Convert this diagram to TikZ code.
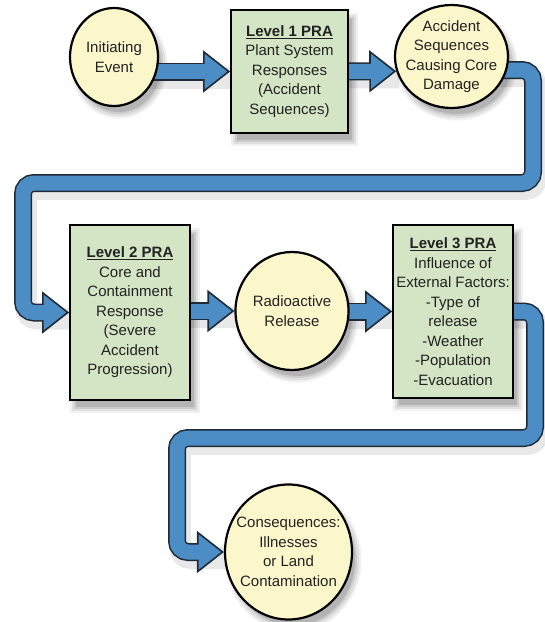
\documentclass[tikz,border=0pt]{standalone}
\usepackage{fontspec}
\setmainfont{Liberation Sans}
\usetikzlibrary{shapes.geometric,arrows.meta}
\pgfdeclarelayer{bg}
\pgfsetlayers{bg,main}
\definecolor{cream}{HTML}{FBF7CB}
\definecolor{sage}{HTML}{D4E5C5}
\definecolor{flowblue}{HTML}{4C8DC5}
\definecolor{flowedge}{HTML}{1E2A36}
\definecolor{ink}{HTML}{222222}
\definecolor{haze1}{RGB}{241,241,241}
\definecolor{haze2}{RGB}{224,224,224}
\definecolor{haze3}{RGB}{204,204,204}
\definecolor{haze4}{RGB}{180,180,180}

\begin{document}
\begin{tikzpicture}[x=1pt,y=-1pt]
  \tikzset{
    haze/.style={fill=haze4,preaction={draw=haze1,line width=13pt},
      preaction={draw=haze2,line width=9pt},preaction={draw=haze3,line width=4pt}},
    oval/.style={ellipse,draw,line width=2.2pt,fill=cream,inner sep=-14pt,align=center,text=ink},
    pra/.style={rectangle,draw,line width=1.8pt,fill=sage,inner sep=0pt,align=center,text=ink},
    flowshade/.style={line width=22pt,black,opacity=.09,rounded corners=11pt,transform canvas={xshift=3pt,yshift=-6pt},
      preaction={line width=27pt,opacity=.05}},
    flowline/.style={line width=18pt,draw=flowedge,rounded corners=11pt,
      -{Triangle[length=27pt,width=42pt,fill=flowblue,line width=1.6pt]}},
    flowfill/.style={line width=15pt,draw=flowblue,rounded corners=11pt,shorten >=23pt}
  }
  \def\flow#1{\draw[flowshade] #1; \draw[flowline] #1; \draw[flowfill] #1;}
  \def\lvl#1{\underline{\textbf{#1}}}
  \fontsize{15}{19.5}\selectfont
  \useasboundingbox (0,0) rectangle (545,622);
  %stages
  \node[oval,minimum width=88pt,minimum height=98pt] (init) at (114,57) {Initiating\\Event};
  \node[pra,minimum width=117pt,minimum height=123pt] (lvl1) at (289.5,71.5)
    {\lvl{Level 1 PRA}\\Plant System\\Responses\\(Accident\\Sequences)};
  \node[oval,minimum width=113pt,minimum height=103pt] (accseq) at (451.5,56.5)
    {Accident\\Sequences\\Causing Core\\Damage};
  \node[pra,minimum width=120pt,minimum height=175pt] (lvl2) at (130,312.5)
    {\lvl{Level 2 PRA}\\Core and\\Containment\\Response\\(Severe\\Accident\\Progression)};
  \node[oval,minimum width=113pt,minimum height=118pt] (rel) at (292,311)
    {Radioactive\\Release};
  \node[pra,minimum width=120pt,minimum height=173pt] (lvl3) at (453,311.5)
    {\lvl{Level 3 PRA}\\Influence of\\External Factors:\\-Type of\\release\\-Weather\\-Population\\-Evacuation};
  \node[oval,minimum width=127pt,minimum height=135pt] (cons) at (288.5,552)
    {Consequences:\\Illnesses\\or Land\\Contamination};
  \begin{pgfonlayer}{bg}
    %shadows
    \fill[haze] ([shift={(5,8)}]init.center) ellipse [x radius=42, y radius=47];
    \fill[haze] ([shift={(5,8)}]accseq.center) ellipse [x radius=54.5, y radius=49.5];
    \fill[haze] ([shift={(5,8)}]rel.center) ellipse [x radius=54.5, y radius=57];
    \fill[haze] ([shift={(5,8)}]cons.center) ellipse [x radius=61.5, y radius=65.5];
    \fill[haze] ([shift={(7,10)}]lvl1.north west) rectangle ([shift={(3,6)}]lvl1.south east);
    \fill[haze] ([shift={(7,10)}]lvl2.north west) rectangle ([shift={(3,6)}]lvl2.south east);
    \fill[haze] ([shift={(7,10)}]lvl3.north west) rectangle ([shift={(3,6)}]lvl3.south east);
    %flows
    \flow{(init.center |- lvl1.west) -- (lvl1.west)}
    \flow{(lvl1.center) -- (accseq.195)}
    \flow{(accseq.center |- 0,70) -- (533,70) -- (533,183) -- (23,183) |- (lvl2.west)}
    \flow{(lvl2.center |- rel.west) -- (rel.west)}
    \flow{(rel.center |- lvl3.west) -- (lvl3.west)}
    \flow{(lvl3.center) -| (535,438) -- (177,438) |- (cons.west)}
  \end{pgfonlayer}
\end{tikzpicture}
\end{document}
